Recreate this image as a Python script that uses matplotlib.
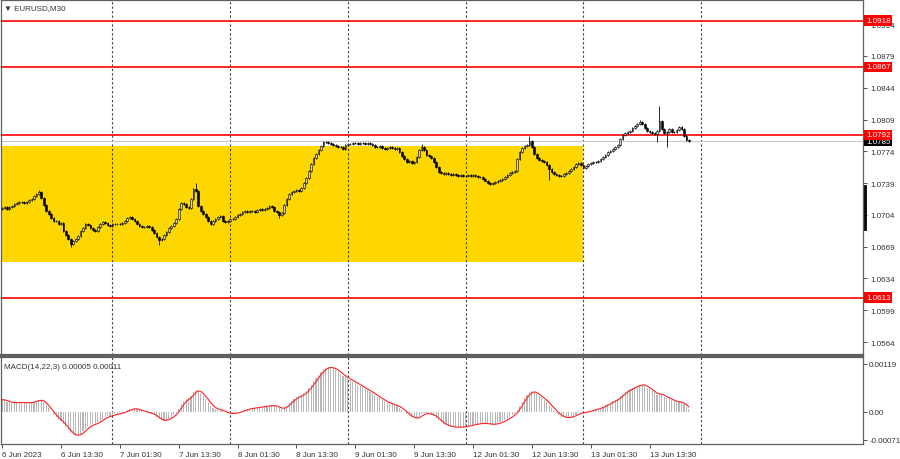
import numpy as np
import matplotlib
matplotlib.use("Agg")
import matplotlib.pyplot as plt

# ---------------- data (EURUSD M30, bar-by-bar closes) ----------------
closes = [
    1.07115, 1.07126, 1.07104, 1.07126, 1.07137, 1.07159, 1.07170, 1.07181, 1.07181, 1.07170,
    1.07181, 1.07203, 1.07214, 1.07248, 1.07270, 1.07292, 1.07226, 1.07148, 1.07082, 1.07049,
    1.07005, 1.06972, 1.06972, 1.06939, 1.06950, 1.06862, 1.06818, 1.06774, 1.06719, 1.06752,
    1.06774, 1.06807, 1.06862, 1.06895, 1.06939, 1.06928, 1.06895, 1.06873, 1.06862, 1.06906,
    1.06939, 1.06961, 1.06950, 1.06928, 1.06917, 1.06939, 1.06939, 1.06939, 1.06939, 1.06950,
    1.06972, 1.07005, 1.07016, 1.06994, 1.06972, 1.06939, 1.06917, 1.06906, 1.06906, 1.06917,
    1.06906, 1.06873, 1.06840, 1.06796, 1.06763, 1.06774, 1.06818, 1.06851, 1.06895, 1.06917,
    1.06950, 1.06994, 1.07104, 1.07170, 1.07159, 1.07126, 1.07115, 1.07214, 1.07325, 1.07303,
    1.07137, 1.07082, 1.07049, 1.07016, 1.06972, 1.06939, 1.06972, 1.06994, 1.07016, 1.07027,
    1.06972, 1.06961, 1.06972, 1.06994, 1.06994, 1.07016, 1.07038, 1.07049, 1.07071, 1.07082,
    1.07071, 1.07082, 1.07082, 1.07071, 1.07093, 1.07104, 1.07093, 1.07104, 1.07115, 1.07137,
    1.07126, 1.07082, 1.07071, 1.07038, 1.07060, 1.07148, 1.07214, 1.07270, 1.07292, 1.07303,
    1.07314, 1.07303, 1.07336, 1.07391, 1.07446, 1.07523, 1.07600, 1.07666, 1.07710, 1.07754,
    1.07798, 1.07842, 1.07842, 1.07831, 1.07820, 1.07809, 1.07798, 1.07787, 1.07787, 1.07765,
    1.07809, 1.07820, 1.07820, 1.07831, 1.07831, 1.07820, 1.07831, 1.07831, 1.07820, 1.07831,
    1.07820, 1.07809, 1.07787, 1.07787, 1.07798, 1.07776, 1.07765, 1.07776, 1.07787, 1.07776,
    1.07765, 1.07776, 1.07732, 1.07688, 1.07655, 1.07622, 1.07633, 1.07611, 1.07622, 1.07677,
    1.07754, 1.07787, 1.07754, 1.07699, 1.07688, 1.07666, 1.07622, 1.07567, 1.07512, 1.07501,
    1.07490, 1.07501, 1.07490, 1.07479, 1.07490, 1.07479, 1.07468, 1.07479, 1.07468, 1.07468,
    1.07479, 1.07468, 1.07479, 1.07468, 1.07457, 1.07457, 1.07435, 1.07413, 1.07391, 1.07380,
    1.07391, 1.07402, 1.07413, 1.07424, 1.07435, 1.07457, 1.07479, 1.07501, 1.07512, 1.07523,
    1.07655, 1.07732, 1.07776, 1.07798, 1.07809, 1.07853, 1.07787, 1.07710, 1.07666, 1.07644,
    1.07633, 1.07622, 1.07589, 1.07545, 1.07512, 1.07490, 1.07479, 1.07468, 1.07468, 1.07490,
    1.07501, 1.07523, 1.07545, 1.07567, 1.07600, 1.07611, 1.07589, 1.07556, 1.07578, 1.07600,
    1.07611, 1.07622, 1.07622, 1.07633, 1.07655, 1.07677, 1.07699, 1.07732, 1.07743, 1.07765,
    1.07787, 1.07809, 1.07875, 1.07919, 1.07941, 1.07952, 1.07963, 1.07996, 1.08018, 1.08040,
    1.08062, 1.08040, 1.07996, 1.07963, 1.07952, 1.07941, 1.07930, 1.07963, 1.08073, 1.07985,
    1.07941, 1.07952, 1.07985, 1.07952, 1.07952, 1.07974, 1.08007, 1.07985, 1.07908, 1.07864,
    1.07850,
]
first_open = 1.07104
wick = 0.00007
high_spikes = {15: 1.07314, 79: 1.07391, 171: 1.07820, 215: 1.07908, 260: 1.08084, 268: 1.08239}
low_spikes = {28: 1.06686, 64: 1.06708, 113: 1.07005, 223: 1.07424, 267: 1.07842, 271: 1.07787}

levels = [1.0918, 1.0867, 1.0792, 1.0613]
current_price = 1.0785
zone_low, zone_high = 1.0652, 1.0780
zone_end_idx = 237

price_ticks = [1.0914, 1.0879, 1.0844, 1.0809, 1.0774, 1.0739, 1.0704, 1.0669, 1.0634, 1.0599, 1.0564]
day_sep_idx = [45, 93, 141, 189, 237, 285]
time_tick_idx = [0, 24, 48, 72, 96, 120, 144, 168, 192, 216, 240, 264]
time_labels = ["6 Jun 2023", "6 Jun 13:30", "7 Jun 01:30", "7 Jun 13:30", "8 Jun 01:30",
               "8 Jun 13:30", "9 Jun 01:30", "9 Jun 13:30", "12 Jun 01:30", "12 Jun 13:30",
               "13 Jun 01:30", "13 Jun 13:30"]
macd_fast, macd_slow, macd_sig = 14, 22, 3
macd_seed = 0.00030
macd_ticks = [0.00119, 0.0, -0.00071]
macd_tick_labels = ["0.00119", "0.00", "-0.00071"]

# ---------------- derived ----------------
c = np.array(closes)
n = len(c)
idx = np.arange(n)
o = np.r_[first_open, c[:-1]]
hi = np.maximum(o, c) + wick
lo = np.minimum(o, c) - wick
for k, v in high_spikes.items():
    hi[k] = max(hi[k], v)
for k, v in low_spikes.items():
    lo[k] = min(lo[k], v)


def ema(x, period, seed):
    a = 2.0 / (period + 1)
    out = np.empty_like(x)
    out[0] = seed
    for i in range(1, len(x)):
        out[i] = out[i - 1] + a * (x[i] - out[i - 1])
    return out


macd = ema(c, macd_fast, c[0]) - ema(c, macd_slow, c[0] - macd_seed)
signal = np.array([macd[max(0, i - macd_sig + 1):i + 1].mean() for i in range(n)])

# ---------------- figure ----------------
plt.rcParams["font.family"] = ["Liberation Sans", "DejaVu Sans"]
W, H = 900, 460
FS = 5.8
fig = plt.figure(figsize=(9, 4.6), dpi=100)
fig.patch.set_facecolor("white")

ax = fig.add_axes([1 / W, 1 - 356 / H, 862 / W, 355 / H])
ax2 = fig.add_axes([1 / W, 1 - 445 / H, 862 / W, 87 / H])

xlim = (-0.45, 351.0)
for a in (ax, ax2):
    a.set_xlim(*xlim)
    a.set_facecolor("white")
    for s in a.spines.values():
        s.set_color("#606060")
        s.set_linewidth(0.9)
    for d in day_sep_idx:
        a.axvline(d, color="#404040", lw=0.8, ls=(0, (2, 2)), zorder=1)

ax.spines["bottom"].set_linewidth(1.6)
ax2.spines["top"].set_linewidth(1.6)

# main price panel
ax.set_ylim(1.05497, 1.09406)
ax.fill_between([xlim[0] - 1, zone_end_idx], zone_low, zone_high, color="#FFD700", lw=0, zorder=0.5)
for lv in levels:
    ax.axhline(lv, color="#ff0000", lw=1.2, zorder=3)
ax.axhline(current_price, color="#c8c8c8", lw=0.8, zorder=2.5)

ax.vlines(idx, lo, hi, color="black", lw=0.6, zorder=4)
up = c >= o
ax.bar(idx[up], (c - o)[up], bottom=o[up], width=0.7, color="#d0d0d0",
       edgecolor="black", linewidth=0.4, zorder=5)
ax.bar(idx[~up], (o - c)[~up], bottom=c[~up], width=0.7, color="black",
       edgecolor="black", linewidth=0.4, zorder=5)

ax.yaxis.tick_right()
ax.set_yticks(price_ticks)
ax.set_yticklabels([f"{t:.4f}" for t in price_ticks])
ax.tick_params(axis="y", length=3, width=0.6, labelsize=FS, pad=2, colors="#333333")
ax.set_xticks([])

for lv in levels:
    ax.annotate(f"{lv:.4f}", xy=(1, lv), xycoords=("axes fraction", "data"),
                xytext=(2.2, 0), textcoords="offset points", va="center", ha="left",
                fontsize=FS, color="white", zorder=20, annotation_clip=False,
                bbox=dict(boxstyle="square,pad=0.2", fc="#ff0000", ec="none"))
ax.annotate(f"{current_price:.4f}", xy=(1, current_price), xycoords=("axes fraction", "data"),
            xytext=(2.2, 0), textcoords="offset points", va="center", ha="left",
            fontsize=FS, color="white", zorder=19, annotation_clip=False,
            bbox=dict(boxstyle="square,pad=0.2", fc="#000000", ec="none"))

ax.plot([1.002, 1.002], [0.355, 0.475], transform=ax.transAxes, color="black",
        lw=2, clip_on=False, zorder=21)

ax.text(0.004, 0.988, "\u25bc EURUSD,M30", transform=ax.transAxes, va="top", ha="left",
        fontsize=FS, color="#333333")

# MACD panel
ax2.set_ylim(-0.00081, 0.00136)
ax2.bar(idx, macd, width=0.45, color="#b8b8b8", lw=0, zorder=2)
ax2.plot(idx, signal, color="#ff2020", lw=0.8, zorder=3)
ax2.yaxis.tick_right()
ax2.set_yticks(macd_ticks)
ax2.set_yticklabels(macd_tick_labels)
ax2.tick_params(axis="y", length=3, width=0.6, labelsize=FS, pad=1.5, colors="#333333")
ax2.set_xticks(time_tick_idx)
ax2.set_xticklabels(time_labels, ha="left")
ax2.tick_params(axis="x", length=3, width=0.6, labelsize=FS, pad=2, colors="#333333")
ax2.text(0.004, 0.93, "MACD(14,22,3) 0.00005 0.00011", transform=ax2.transAxes,
         va="top", ha="left", fontsize=FS, color="#333333")

fig.savefig("out.png", dpi=100, facecolor="white")
